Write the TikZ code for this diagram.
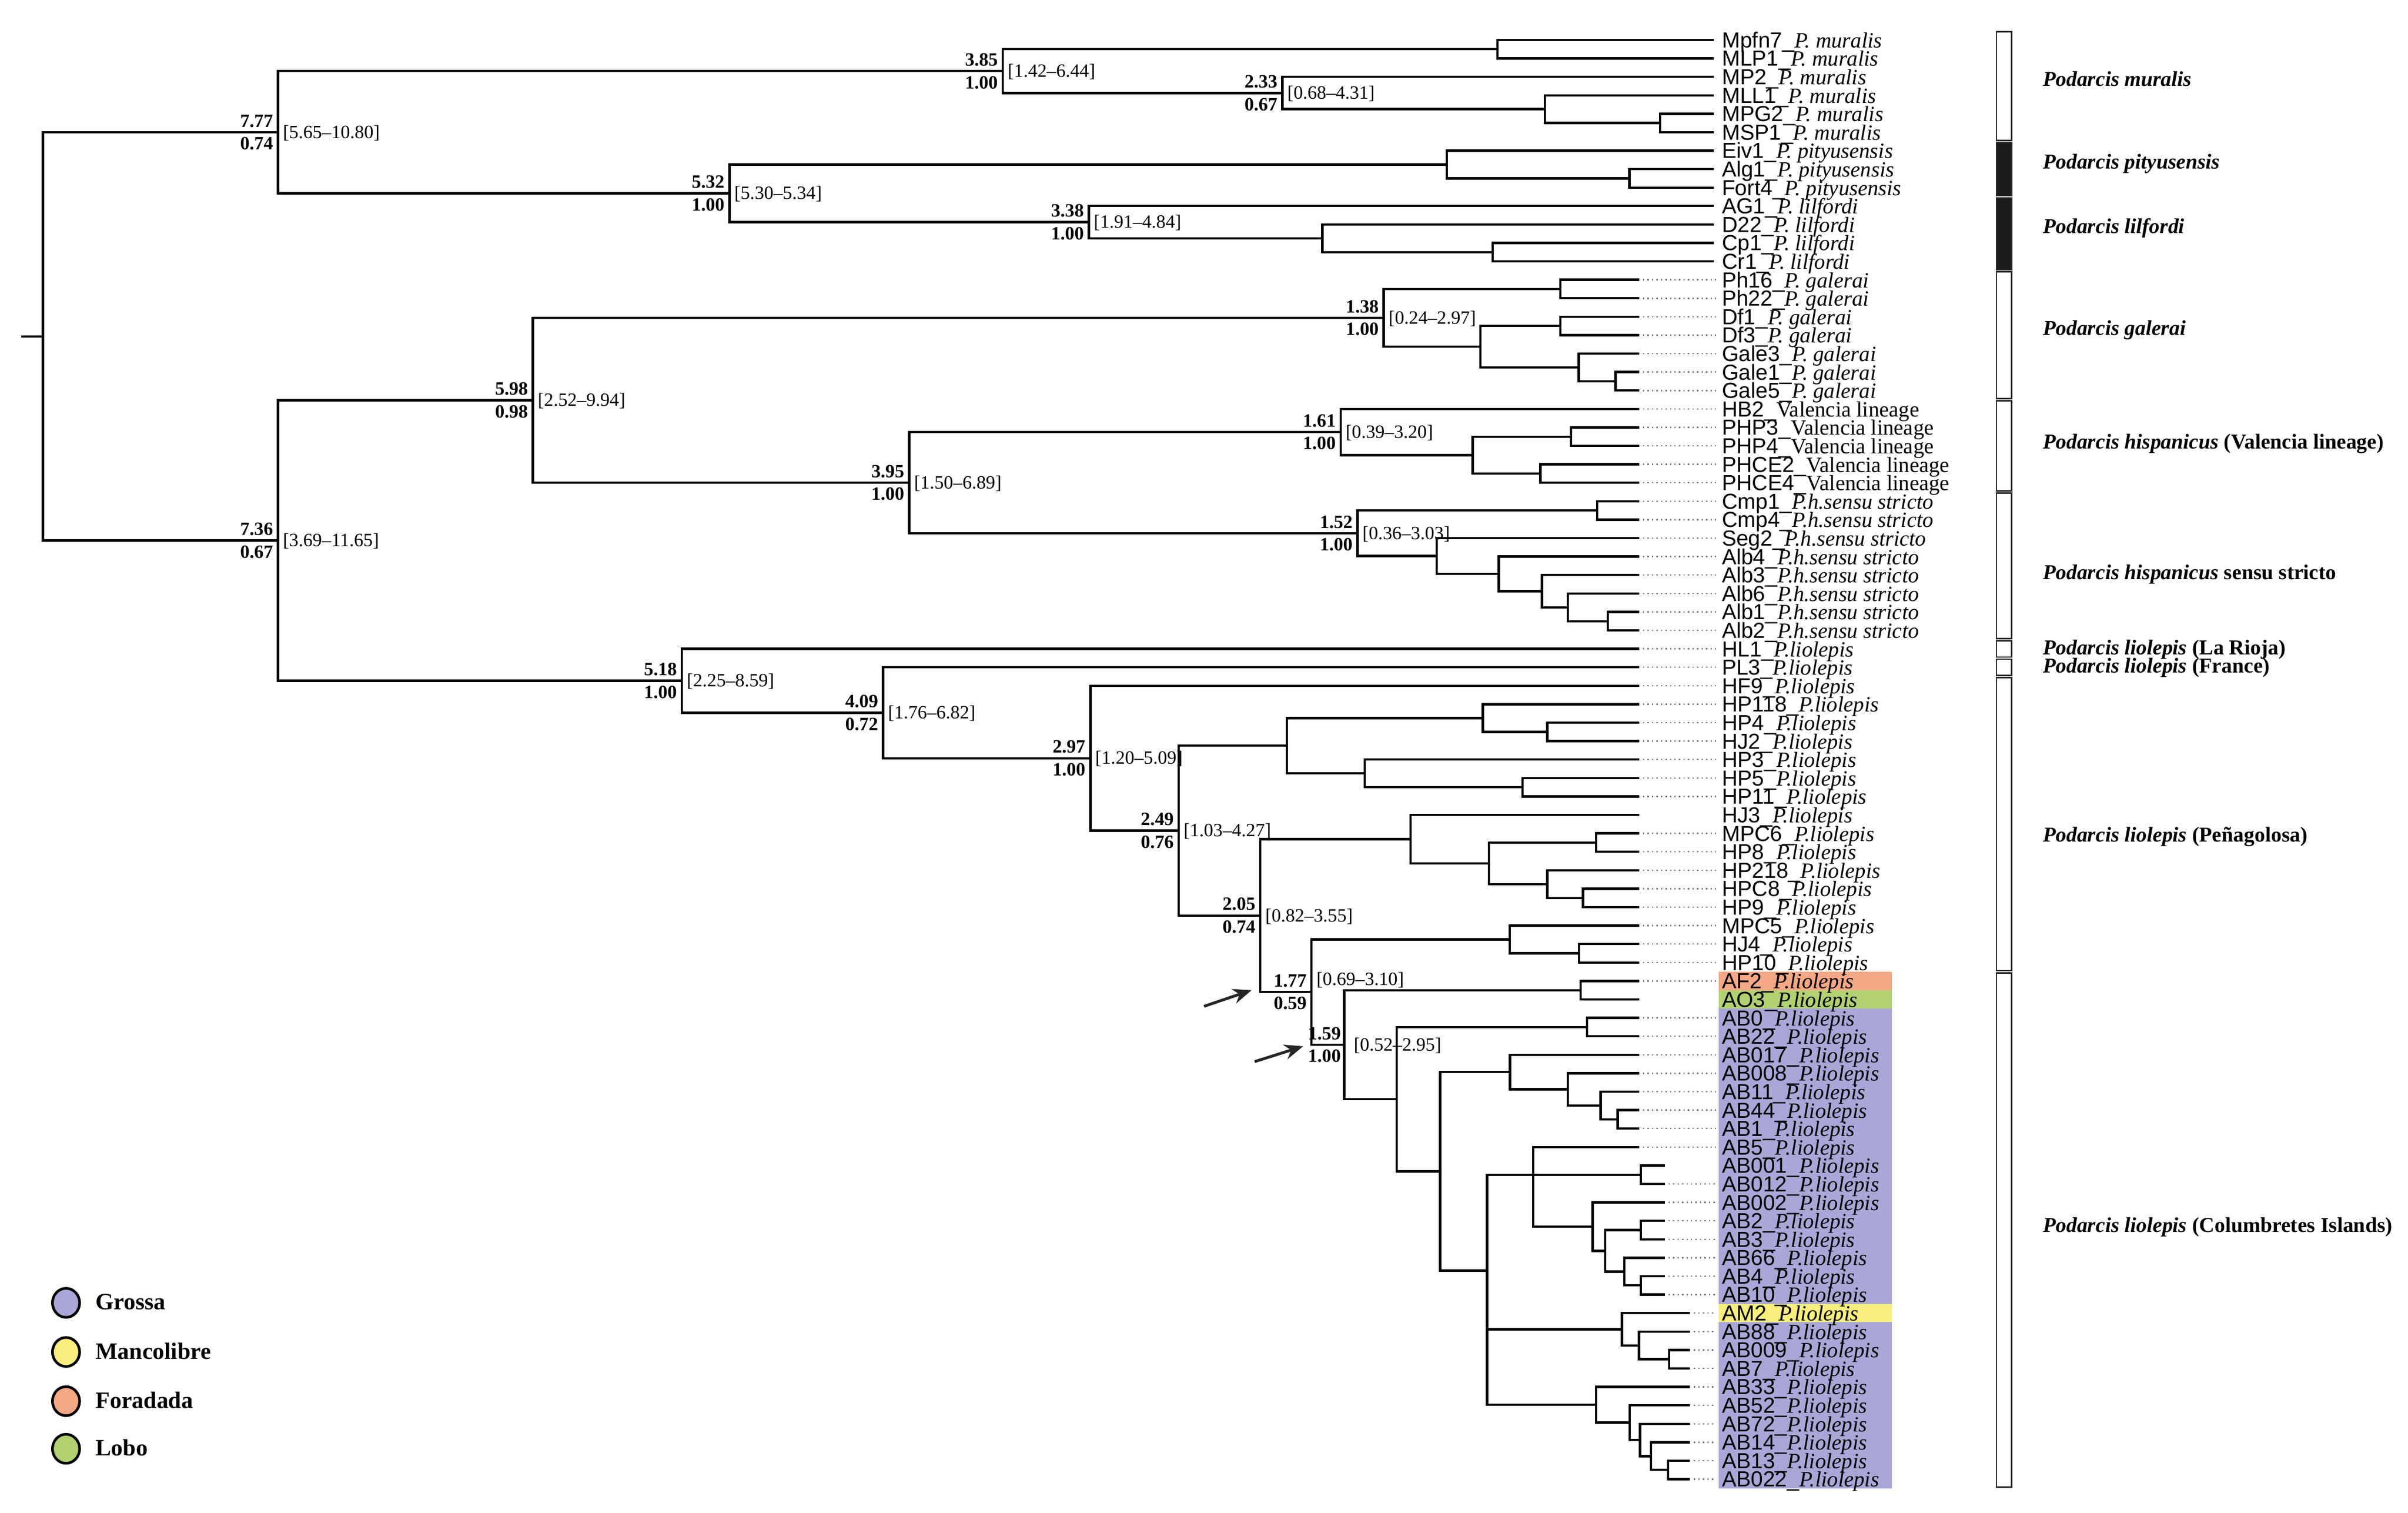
\documentclass[tikz,border=0pt]{standalone}
\usepackage{fontspec}
\setmainfont{Liberation Serif}
\newfontfamily\codefont{Liberation Sans}
\usetikzlibrary{calc,arrows.meta,shapes.geometric}
\definecolor{grossa}{HTML}{A9A7D7}
\definecolor{mancol}{HTML}{F7EE7D}
\definecolor{forad}{HTML}{F4A886}
\definecolor{lobo}{HTML}{B2D272}
\definecolor{barblack}{HTML}{1C1C1C}

\newcommand{\innode}[3]{\coordinate (#1) at (#2,{ry(#3)});}
\newcommand{\linkto}[2]{\draw[branch] (#1) |- (#2);}
\newcommand{\twoway}[3]{\linkto{#1}{#2}\linkto{#1}{#3}}
\newcommand{\addtip}[4]{\coordinate (t#1) at (#2,{ry(#1)});
  \node[tiplab] (lab#1) at (1121,{ry(#1)+5}) {{\codefont #3\_}#4};}
\newcommand{\nodelab}[4]{%
  \node[toplab] (#1up) at ($(#1)+(-3,-3)$) {#2};
  \node[botlab] (#1dn) at ($(#1)+(-3,3)$) {#3};
  \node[intlab] (#1ci) at ($(#1)+(3,0.5)$) {#4};}
\newcommand{\grpbar}[3]{\draw[barline, fill=#3] (1300,{ry(#1)-5.3}) rectangle (1310,{ry(#2)+5.3});}

\begin{document}
\begin{tikzpicture}[x=0.02881cm, y=-0.02881cm,
  declare function={ry(\r)=26+(\r-1)*12.01;},
  branch/.style={line width=1.25pt, black},
  tipdot/.style={line width=0.7pt, black!55, dash pattern=on 0.7pt off 1.7pt, shorten <=2pt, shorten >=3pt},
  tiplab/.style={anchor=base west, inner sep=0pt, font=\fontsize{11.6}{11.6}\selectfont},
  toplab/.style={anchor=south east, inner sep=0pt, font=\fontsize{10}{10}\selectfont\bfseries},
  botlab/.style={anchor=north east, inner sep=0pt, font=\fontsize{10}{10}\selectfont\bfseries},
  intlab/.style={anchor=west, inner sep=0pt, font=\fontsize{10}{10}\selectfont},
  barline/.style={line width=0.8pt, draw=black!85},
  grplab/.style={anchor=base west, inner sep=0pt, font=\fontsize{11.3}{11.3}\selectfont\bfseries},
  legdot/.style={ellipse, draw=black, line width=1.4pt, minimum width=14.5pt, minimum height=15.5pt, inner sep=0pt},
  legtxt/.style={anchor=base west, inner sep=0pt, font=\fontsize{12.5}{12.5}\selectfont\bfseries},
  pointer/.style={line width=1.5pt, black!85, -{Stealth[length=10pt,width=8pt]}}
]
\useasboundingbox (0,0) rectangle (1568,984.8);

% coloured label backgrounds
\fill[forad] (1119,{ry(52)-6}) rectangle (1232,{ry(52)+6});
\fill[lobo] (1119,{ry(53)-6}) rectangle (1232,{ry(53)+6});
\fill[grossa] (1119,{ry(54)-6}) rectangle (1232,{ry(79)+6});
\fill[mancol] (1119,{ry(70)-6}) rectangle (1232,{ry(70)+6});

% tips
\addtip{1}{1116}{Mpfn7}{\textit{P. muralis}}
\addtip{2}{1116}{MLP1}{\textit{P. muralis}}
\addtip{3}{1116}{MP2}{\textit{P. muralis}}
\addtip{4}{1116}{MLL1}{\textit{P. muralis}}
\addtip{5}{1116}{MPG2}{\textit{P. muralis}}
\addtip{6}{1116}{MSP1}{\textit{P. muralis}}
\addtip{7}{1116}{Eiv1}{\textit{P. pityusensis}}
\addtip{8}{1116}{Alg1}{\textit{P. pityusensis}}
\addtip{9}{1116}{Fort4}{\textit{P. pityusensis}}
\addtip{10}{1116}{AG1}{\textit{P. lilfordi}}
\addtip{11}{1116}{D22}{\textit{P. lilfordi}}
\addtip{12}{1116}{Cp1}{\textit{P. lilfordi}}
\addtip{13}{1116}{Cr1}{\textit{P. lilfordi}}
\addtip{14}{1067.4}{Ph16}{\textit{P. galerai}}
\addtip{15}{1067.4}{Ph22}{\textit{P. galerai}}
\addtip{16}{1067.4}{Df1}{\textit{P. galerai}}
\addtip{17}{1067.4}{Df3}{\textit{P. galerai}}
\addtip{18}{1067.4}{Gale3}{\textit{P. galerai}}
\addtip{19}{1067.4}{Gale1}{\textit{P. galerai}}
\addtip{20}{1067.4}{Gale5}{\textit{P. galerai}}
\addtip{21}{1067.4}{HB2}{Valencia lineage}
\addtip{22}{1067.4}{PHP3}{Valencia lineage}
\addtip{23}{1067.4}{PHP4}{Valencia lineage}
\addtip{24}{1067.4}{PHCE2}{Valencia lineage}
\addtip{25}{1067.4}{PHCE4}{Valencia lineage}
\addtip{26}{1067.4}{Cmp1}{\textit{P.h.sensu stricto}}
\addtip{27}{1067.4}{Cmp4}{\textit{P.h.sensu stricto}}
\addtip{28}{1067.4}{Seg2}{\textit{P.h.sensu stricto}}
\addtip{29}{1067.4}{Alb4}{\textit{P.h.sensu stricto}}
\addtip{30}{1067.4}{Alb3}{\textit{P.h.sensu stricto}}
\addtip{31}{1067.4}{Alb6}{\textit{P.h.sensu stricto}}
\addtip{32}{1067.4}{Alb1}{\textit{P.h.sensu stricto}}
\addtip{33}{1067.4}{Alb2}{\textit{P.h.sensu stricto}}
\addtip{34}{1067.4}{HL1}{\textit{P.liolepis}}
\addtip{35}{1067.4}{PL3}{\textit{P.liolepis}}
\addtip{36}{1067.4}{HF9}{\textit{P.liolepis}}
\addtip{37}{1067.4}{HP118}{\textit{P.liolepis}}
\addtip{38}{1067.4}{HP4}{\textit{P.liolepis}}
\addtip{39}{1067.4}{HJ2}{\textit{P.liolepis}}
\addtip{40}{1067.4}{HP3}{\textit{P.liolepis}}
\addtip{41}{1067.4}{HP5}{\textit{P.liolepis}}
\addtip{42}{1067.4}{HP11}{\textit{P.liolepis}}
\addtip{43}{1067.4}{HJ3}{\textit{P.liolepis}}
\addtip{44}{1067.4}{MPC6}{\textit{P.liolepis}}
\addtip{45}{1067.4}{HP8}{\textit{P.liolepis}}
\addtip{46}{1067.4}{HP218}{\textit{P.liolepis}}
\addtip{47}{1067.4}{HPC8}{\textit{P.liolepis}}
\addtip{48}{1067.4}{HP9}{\textit{P.liolepis}}
\addtip{49}{1067.4}{MPC5}{\textit{P.liolepis}}
\addtip{50}{1067.4}{HJ4}{\textit{P.liolepis}}
\addtip{51}{1067.4}{HP10}{\textit{P.liolepis}}
\addtip{52}{1067.4}{AF2}{\textit{P.liolepis}}
\addtip{53}{1067.4}{AO3}{\textit{P.liolepis}}
\addtip{54}{1067.4}{AB0}{\textit{P.liolepis}}
\addtip{55}{1067.4}{AB22}{\textit{P.liolepis}}
\addtip{56}{1067.4}{AB017}{\textit{P.liolepis}}
\addtip{57}{1067.4}{AB008}{\textit{P.liolepis}}
\addtip{58}{1067.4}{AB11}{\textit{P.liolepis}}
\addtip{59}{1067.4}{AB44}{\textit{P.liolepis}}
\addtip{60}{1067.4}{AB1}{\textit{P.liolepis}}
\addtip{61}{1067.4}{AB5}{\textit{P.liolepis}}
\addtip{62}{1084}{AB001}{\textit{P.liolepis}}
\addtip{63}{1084}{AB012}{\textit{P.liolepis}}
\addtip{64}{1084}{AB002}{\textit{P.liolepis}}
\addtip{65}{1084}{AB2}{\textit{P.liolepis}}
\addtip{66}{1084}{AB3}{\textit{P.liolepis}}
\addtip{67}{1084}{AB66}{\textit{P.liolepis}}
\addtip{68}{1084}{AB4}{\textit{P.liolepis}}
\addtip{69}{1084}{AB10}{\textit{P.liolepis}}
\addtip{70}{1100.5}{AM2}{\textit{P.liolepis}}
\addtip{71}{1100.5}{AB88}{\textit{P.liolepis}}
\addtip{72}{1100.5}{AB009}{\textit{P.liolepis}}
\addtip{73}{1100.5}{AB7}{\textit{P.liolepis}}
\addtip{74}{1100.5}{AB33}{\textit{P.liolepis}}
\addtip{75}{1100.5}{AB52}{\textit{P.liolepis}}
\addtip{76}{1100.5}{AB72}{\textit{P.liolepis}}
\addtip{77}{1100.5}{AB14}{\textit{P.liolepis}}
\addtip{78}{1100.5}{AB13}{\textit{P.liolepis}}
\addtip{79}{1100.5}{AB022}{\textit{P.liolepis}}

% dotted leaders
\foreach \i in {14,...,42} {\draw[tipdot] (t\i) -- (t\i -| lab\i.west);}
\foreach \i in {44,...,52} {\draw[tipdot] (t\i) -- (t\i -| lab\i.west);}
\foreach \i in {54,...,61} {\draw[tipdot] (t\i) -- (t\i -| lab\i.west);}
\foreach \i in {63,...,79} {\draw[tipdot] (t\i) -- (t\i -| lab\i.west);}

% internal nodes
\innode{root}{28}{17.065}
\coordinate (rootstub) at (14,{ry(17.065)});
\innode{A}{181}{6}
\innode{B}{653}{2.6875}
\innode{J1}{975}{1.5}
\innode{C}{835}{3.875}
\innode{D}{1006}{4.75}
\innode{E}{1081}{5.5}
\innode{F}{475}{9.3125}
\innode{G}{942}{7.75}
\innode{G2}{1061}{8.5}
\innode{H}{709}{10.875}
\innode{H2}{861}{11.75}
\innode{H3}{972}{12.5}
\innode{K}{181}{28.13}
\innode{L}{347}{20.527}
\innode{N}{901}{16.0625}
\innode{N1}{1016}{14.5}
\innode{N2}{964}{17.625}
\innode{N3}{1016}{16.5}
\innode{N4}{1028}{18.75}
\innode{N5}{1052}{19.5}
\innode{O}{592}{24.992}
\innode{P}{873}{22.25}
\innode{P1}{959}{23.5}
\innode{P2}{1023}{22.5}
\innode{P3}{1003}{24.5}
\innode{Q}{884}{27.734}
\innode{Q1}{1040}{26.5}
\innode{Q2}{935.5}{28.969}
\innode{Q3}{976}{29.9375}
\innode{Q4}{1004}{30.875}
\innode{Q5}{1021}{31.75}
\innode{Q6}{1047}{32.5}
\innode{M}{444}{35.732}
\innode{R}{575}{37.463}
\innode{S}{710}{39.927}
\innode{T}{767.5}{43.854}
\innode{U1}{838}{39.25}
\innode{U2}{965.5}{37.75}
\innode{U4}{1007.5}{38.5}
\innode{U3}{888.7}{40.75}
\innode{U5}{991.5}{41.5}
\innode{V}{820.7}{48.457}
\innode{W}{918.5}{44.3125}
\innode{W1}{969.5}{45.625}
\innode{W2}{1039.3}{44.5}
\innode{W3}{1007.5}{46.75}
\innode{W4}{1030.8}{47.5}
\innode{X}{854}{52.602}
\innode{Y1}{983}{49.75}
\innode{Y2}{1028.2}{50.5}
\innode{Z}{875.3}{55.455}
\innode{AFAO}{1029.2}{52.5}
\innode{BB}{909.4}{58.409}
\innode{CC}{1033.4}{54.5}
\innode{DD}{937.8}{62.319}
\innode{EE}{983.2}{56.9375}
\innode{EE1}{1020.8}{57.875}
\innode{EE2}{1042.3}{58.75}
\innode{EE3}{1053.3}{59.5}
\innode{FF}{968.3}{67.7}
\innode{GG}{998.3}{62.5}
\innode{KK}{1068.4}{62.5}
\innode{JJ}{1037}{65.3125}
\innode{LL}{1045.2}{66.625}
\innode{MM}{1068.4}{65.5}
\innode{NN}{1057.8}{67.75}
\innode{OO}{1068.4}{68.5}
\innode{II}{1056.2}{70.875}
\innode{PP}{1067.3}{71.75}
\innode{QQ}{1086.8}{72.5}
\innode{HH}{1039.2}{74.969}
\innode{RR}{1061.1}{75.9375}
\innode{SS}{1068}{76.875}
\innode{TT}{1075}{77.75}
\innode{UU}{1086.1}{78.5}

% branches
\draw[branch] (rootstub) -- (root);
\twoway{root}{A}{K}
\twoway{A}{B}{F}
\twoway{B}{J1}{C}
\twoway{J1}{t1}{t2}
\twoway{C}{t3}{D}
\twoway{D}{t4}{E}
\twoway{E}{t5}{t6}
\twoway{F}{G}{H}
\twoway{G}{t7}{G2}
\twoway{G2}{t8}{t9}
\twoway{H}{t10}{H2}
\twoway{H2}{t11}{H3}
\twoway{H3}{t12}{t13}
\twoway{K}{L}{M}
\twoway{L}{N}{O}
\twoway{N}{N1}{N2}
\twoway{N1}{t14}{t15}
\twoway{N2}{N3}{N4}
\twoway{N3}{t16}{t17}
\twoway{N4}{t18}{N5}
\twoway{N5}{t19}{t20}
\twoway{O}{P}{Q}
\twoway{P}{t21}{P1}
\twoway{P1}{P2}{P3}
\twoway{P2}{t22}{t23}
\twoway{P3}{t24}{t25}
\twoway{Q}{Q1}{Q2}
\twoway{Q1}{t26}{t27}
\twoway{Q2}{t28}{Q3}
\twoway{Q3}{t29}{Q4}
\twoway{Q4}{t30}{Q5}
\twoway{Q5}{t31}{Q6}
\twoway{Q6}{t32}{t33}
\twoway{M}{t34}{R}
\twoway{R}{t35}{S}
\twoway{S}{t36}{T}
\twoway{T}{U1}{V}
\twoway{U1}{U2}{U3}
\twoway{U2}{t37}{U4}
\twoway{U4}{t38}{t39}
\twoway{U3}{t40}{U5}
\twoway{U5}{t41}{t42}
\twoway{V}{W}{X}
\twoway{W}{t43}{W1}
\twoway{W1}{W2}{W3}
\twoway{W2}{t44}{t45}
\twoway{W3}{t46}{W4}
\twoway{W4}{t47}{t48}
\twoway{X}{Y1}{Z}
\twoway{Y1}{t49}{Y2}
\twoway{Y2}{t50}{t51}
\twoway{Z}{AFAO}{BB}
\twoway{AFAO}{t52}{t53}
\twoway{BB}{CC}{DD}
\twoway{CC}{t54}{t55}
\twoway{DD}{EE}{FF}
\twoway{EE}{t56}{EE1}
\twoway{EE1}{t57}{EE2}
\twoway{EE2}{t58}{EE3}
\twoway{EE3}{t59}{t60}
\twoway{FF}{GG}{HH}
\linkto{FF}{II}
\twoway{GG}{t61}{JJ}
\linkto{GG}{KK}
\twoway{KK}{t62}{t63}
\twoway{JJ}{t64}{LL}
\twoway{LL}{MM}{NN}
\twoway{MM}{t65}{t66}
\twoway{NN}{t67}{OO}
\twoway{OO}{t68}{t69}
\twoway{II}{t70}{PP}
\twoway{PP}{t71}{QQ}
\twoway{QQ}{t72}{t73}
\twoway{HH}{t74}{RR}
\twoway{RR}{t75}{SS}
\twoway{SS}{t76}{TT}
\twoway{TT}{t77}{UU}
\twoway{UU}{t78}{t79}

% node labels
\nodelab{A}{7.77}{0.74}{[5.65--10.80]}
\nodelab{B}{3.85}{1.00}{[1.42--6.44]}
\nodelab{C}{2.33}{0.67}{[0.68--4.31]}
\nodelab{F}{5.32}{1.00}{[5.30--5.34]}
\nodelab{H}{3.38}{1.00}{[1.91--4.84]}
\nodelab{K}{7.36}{0.67}{[3.69--11.65]}
\nodelab{L}{5.98}{0.98}{[2.52--9.94]}
\nodelab{N}{1.38}{1.00}{[0.24--2.97]}
\nodelab{O}{3.95}{1.00}{[1.50--6.89]}
\nodelab{P}{1.61}{1.00}{[0.39--3.20]}
\nodelab{Q}{1.52}{1.00}{[0.36--3.03]}
\nodelab{M}{5.18}{1.00}{[2.25--8.59]}
\nodelab{R}{4.09}{0.72}{[1.76--6.82]}
\nodelab{S}{2.97}{1.00}{[1.20--5.09]}
\nodelab{T}{2.49}{0.76}{[1.03--4.27]}
\nodelab{V}{2.05}{0.74}{[0.82--3.55]}
\node[toplab] (Xup) at ($(X)+(-3,-3)$) {1.77};
\node[botlab] (Xdn) at ($(X)+(-3,3)$) {0.59};
\node[intlab, anchor=south west] (Xci) at ($(X)+(3,-2.5)$) {[0.69--3.10]};
\node[toplab] (Zup) at ($(Z)+(-2,-3)$) {1.59};
\node[botlab] (Zdn) at ($(Z)+(-2,3)$) {1.00};
\node[intlab] (Zci) at ($(Z)+(6,0.5)$) {[0.52--2.95]};

% arrows
\coordinate (a1s) at (784,655);
\coordinate (a1e) at (815,644.5);
\coordinate (a2s) at (817,691);
\coordinate (a2e) at (848.6,681);
\draw[pointer] (a1s) -- (a1e);
\draw[pointer] (a2s) -- (a2e);

% group bars
\grpbar{1}{6}{white}
\grpbar{7}{9}{barblack}
\grpbar{10}{13}{barblack}
\grpbar{14}{20}{white}
\grpbar{21}{25}{white}
\grpbar{26}{33}{white}
\grpbar{34}{34}{white}
\grpbar{35}{35}{white}
\grpbar{36}{51}{white}
\grpbar{52}{79}{white}

% group labels
\node[grplab] (g1) at (1330,56) {\itshape Podarcis muralis};
\node[grplab] (g2) at (1330,110) {\itshape Podarcis pityusensis};
\node[grplab] (g3) at (1330,152) {\itshape Podarcis lilfordi};
\node[grplab] (g4) at (1330,218) {\itshape Podarcis galerai};
\node[grplab] (g5) at (1330,292) {\textit{Podarcis hispanicus} (Valencia lineage)};
\node[grplab] (g6) at (1330,377) {\textit{Podarcis hispanicus} sensu stricto};
\node[grplab] (g7) at (1330,426) {\textit{Podarcis liolepis} (La Rioja)};
\node[grplab] (g8) at (1330,438) {\textit{Podarcis liolepis} (France)};
\node[grplab] (g9) at (1330,548) {\textit{Podarcis liolepis} (Peñagolosa)};
\node[grplab] (g10) at (1330,802) {\textit{Podarcis liolepis} (Columbretes Islands)};

% legend
\node[legdot, fill=grossa] (ld1) at (43,848) {};
\node[legdot, fill=mancol] (ld2) at (43,880) {};
\node[legdot, fill=forad] (ld3) at (43,912) {};
\node[legdot, fill=lobo] (ld4) at (43,943) {};
\node[legtxt] (lt1) at (62,852.5) {Grossa};
\node[legtxt] (lt2) at (62,884.5) {Mancolibre};
\node[legtxt] (lt3) at (62,916.5) {Foradada};
\node[legtxt] (lt4) at (62,947.5) {Lobo};
\end{tikzpicture}
\end{document}
